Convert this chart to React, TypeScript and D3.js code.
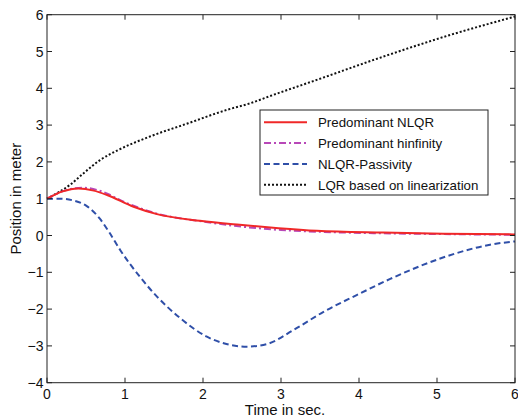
// App.tsx
import React, { useRef, useEffect } from "react";
import * as d3 from "d3";

// NLQR
const tRed = [0, 0.2, 0.4, 0.6, 0.77, 1.11, 1.41, 1.96, 2.47, 2.97, 3.46, 4.31, 5.08, 6];
const vRed = [1, 1.2, 1.28, 1.22, 1.1, 0.78, 0.58, 0.4, 0.29, 0.2, 0.13, 0.08, 0.05, 0.03];
// hinfinity
const tMag = [0, 0.2, 0.45, 0.7, 1.0, 1.4, 2.0, 2.5, 3.0, 3.5, 4.3, 5.0, 6];
const vMag = [1, 1.2, 1.3, 1.2, 0.9, 0.6, 0.38, 0.24, 0.15, 0.1, 0.06, 0.04, 0.02];
// NLQR-Passivity
const tBlue = [0, 0.17, 0.34, 0.51, 0.68, 0.8, 0.94, 1.19, 1.41, 1.71, 2.05, 2.3, 2.56, 2.82, 3.16, 3.54, 3.97, 4.4, 4.82, 5.25, 5.68, 6];
const vBlue = [1, 1.0, 0.95, 0.8, 0.45, 0.08, -0.4, -1.12, -1.66, -2.25, -2.75, -2.95, -3.02, -2.95, -2.57, -2.08, -1.62, -1.18, -0.8, -0.48, -0.25, -0.16];
// LQR linearization
const tBlack = [0, 0.29, 0.49, 0.68, 0.91, 1.32, 1.81, 2.3, 2.6, 2.9, 3.46, 4.31, 5.17, 6];
const vBlack = [1, 1.37, 1.73, 2.05, 2.32, 2.69, 3.05, 3.41, 3.59, 3.82, 4.23, 4.86, 5.45, 5.95];

const xTicks = [0, 1, 2, 3, 4, 5, 6];
const yTicks = [-4, -3, -2, -1, 0, 1, 2, 3, 4, 5, 6];

const series = [
  { name: "Predominant NLQR", t: tRed, v: vRed, color: "#f02828", dash: null },
  { name: "Predominant hinfinity", t: tMag, v: vMag, color: "#b848b8", dash: "7,3,2,3" },
  { name: "NLQR-Passivity", t: tBlue, v: vBlue, color: "#2f4fa8", dash: "6,3.5" },
  { name: "LQR based on linearization", t: tBlack, v: vBlack, color: "#111", dash: "2,2" },
];

const App = () => {
  const ref = useRef<SVGSVGElement>(null);

  useEffect(() => {
    const svg = d3.select(ref.current);
    svg.selectAll("*").remove();

    const left = 47, right = 515, top = 14.7, bottom = 382.7;
    const font = "Liberation Sans, Arial, sans-serif";

    const x = d3.scaleLinear().domain([0, 6]).range([left, right]);
    const y = d3.scaleLinear().domain([-4, 6]).range([bottom, top]);

    const line = d3
      .line<[number, number]>()
      .x((d) => x(d[0]))
      .y((d) => y(d[1]))
      .curve(d3.curveMonotoneX);

    // draw order: black, blue, magenta, red on top
    const order = [3, 2, 1, 0];
    order.forEach((i) => {
      const s = series[i];
      const pts = s.t.map((t, k) => [t, s.v[k]] as [number, number]);
      svg
        .append("path")
        .datum(pts)
        .attr("fill", "none")
        .attr("stroke", s.color)
        .attr("stroke-width", 2)
        .attr("stroke-dasharray", s.dash)
        .attr("d", line);
    });

    const axisColor = "#222";
    const tl = 5;

    // frame
    svg
      .append("rect")
      .attr("x", left)
      .attr("y", top)
      .attr("width", right - left)
      .attr("height", bottom - top)
      .attr("fill", "none")
      .attr("stroke", axisColor)
      .attr("stroke-width", 1);

    // x ticks (bottom & top, inward)
    xTicks.forEach((t) => {
      const px = x(t);
      svg.append("line").attr("x1", px).attr("x2", px).attr("y1", bottom).attr("y2", bottom - tl).attr("stroke", axisColor);
      svg.append("line").attr("x1", px).attr("x2", px).attr("y1", top).attr("y2", top + tl).attr("stroke", axisColor);
      svg
        .append("text")
        .attr("x", px)
        .attr("y", bottom + 16.5)
        .attr("text-anchor", "middle")
        .attr("font-family", font)
        .attr("font-size", 14)
        .attr("fill", "#111")
        .text(String(t));
    });

    // y ticks (left & right, inward)
    yTicks.forEach((v) => {
      const py = y(v);
      svg.append("line").attr("x1", left).attr("x2", left + tl).attr("y1", py).attr("y2", py).attr("stroke", axisColor);
      svg.append("line").attr("x1", right).attr("x2", right - tl).attr("y1", py).attr("y2", py).attr("stroke", axisColor);
      svg
        .append("text")
        .attr("x", left - 3.5)
        .attr("y", py + 5)
        .attr("text-anchor", "end")
        .attr("font-family", font)
        .attr("font-size", 14)
        .attr("fill", "#111")
        .text(v < 0 ? "\u2212" + Math.abs(v) : String(v));
    });

    // axis labels
    svg
      .append("text")
      .attr("x", (left + right) / 2 + 4)
      .attr("y", 415)
      .attr("text-anchor", "middle")
      .attr("font-family", font)
      .attr("font-size", 15)
      .attr("fill", "#111")
      .text("Time in sec.");

    svg
      .append("text")
      .attr("transform", `translate(21,${(top + bottom) / 2}) rotate(-90)`)
      .attr("text-anchor", "middle")
      .attr("font-family", font)
      .attr("font-size", 15)
      .attr("fill", "#111")
      .text("Position in meter");

    // legend
    const lg = svg.append("g");
    lg.append("rect")
      .attr("x", 260)
      .attr("y", 110)
      .attr("width", 228)
      .attr("height", 85)
      .attr("fill", "#fff")
      .attr("stroke", axisColor)
      .attr("stroke-width", 1);

    series.forEach((s, i) => {
      const ry = 122.3 + i * 20.8;
      lg.append("line")
        .attr("x1", 264)
        .attr("x2", 307)
        .attr("y1", ry)
        .attr("y2", ry)
        .attr("stroke", s.color)
        .attr("stroke-width", 2)
        .attr("stroke-dasharray", s.dash);
      lg.append("text")
        .attr("x", 318)
        .attr("y", ry + 5)
        .attr("font-family", font)
        .attr("font-size", 13.3)
        .attr("fill", "#111")
        .text(s.name);
    });
  }, []);

  return (
    <svg
      ref={ref}
      width={518}
      height={420}
      style={{ position: "absolute", left: 0, top: 0, background: "#fff" }}
    />
  );
};

export default App;
